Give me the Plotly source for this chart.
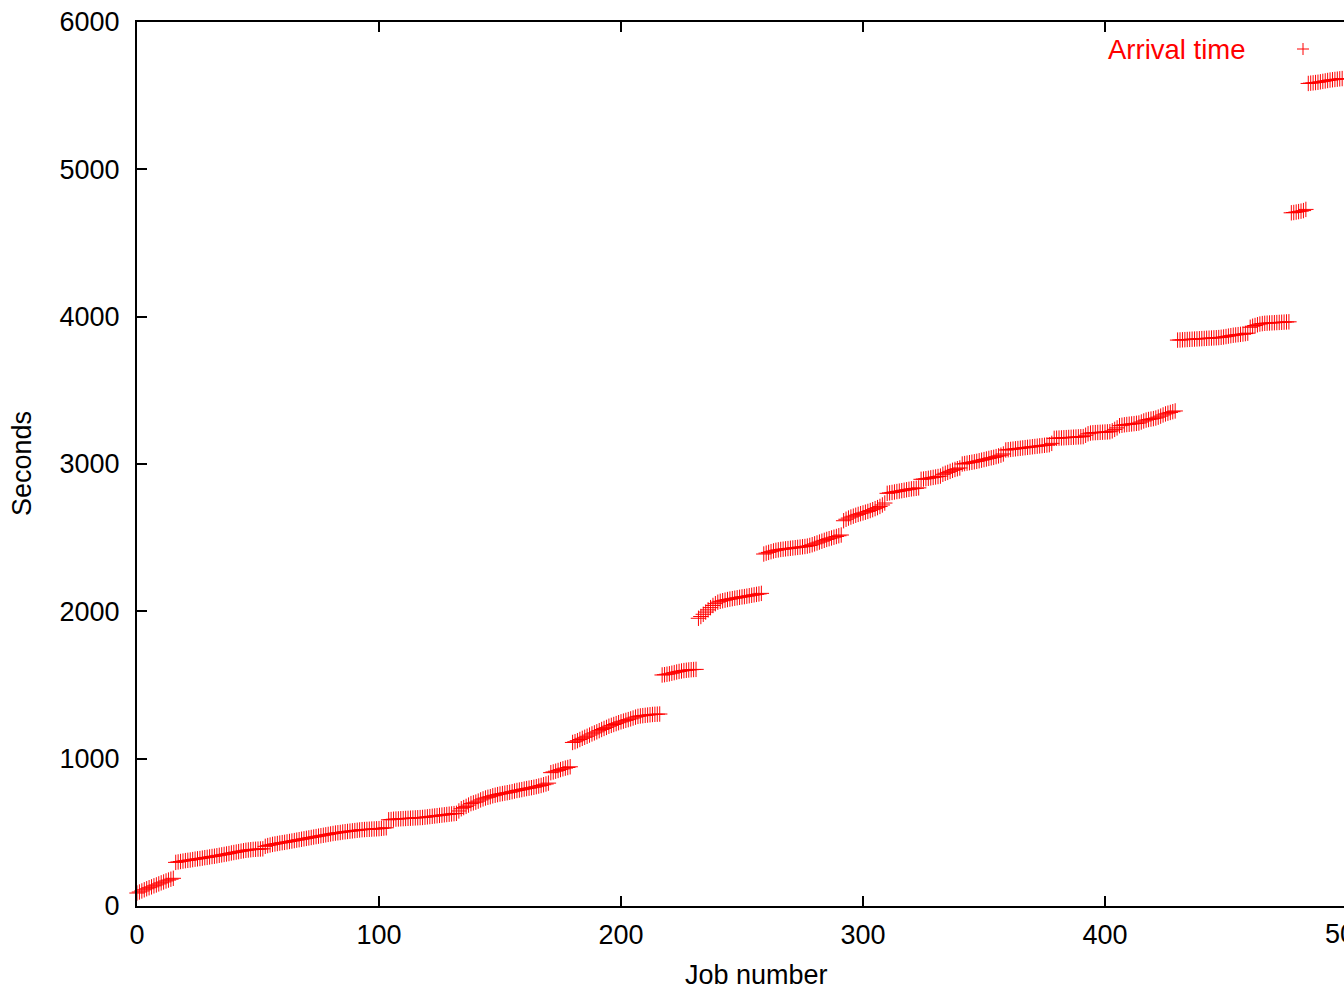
import plotly.graph_objects as go

# Arrival time (seconds) per job, segment by segment
seg_a = [88, 95, 102, 110, 117, 124, 130, 137, 143, 150, 157, 163, 170, 176, 182, 188]
seg_b = [296, 299, 302, 305, 308, 310, 312, 315, 318, 320,
         322, 325, 328, 330, 333, 336, 338, 341, 344, 347,
         350, 353, 356, 360, 363, 366, 369, 372, 375, 378,
         380, 382, 384, 385, 386, 387, 388,
         405, 410, 414, 418, 421, 424, 427, 430, 432, 435,
         438, 441, 444, 447, 450, 453, 456, 459, 462, 465,
         468, 471, 474, 477, 480, 483, 486, 489, 492, 495,
         497, 499, 502, 504, 506, 508, 510, 512, 514, 516,
         518, 519, 520, 521, 522, 523, 524, 525, 527, 529, 531]
seg_c = [585, 587, 589, 590, 591, 592, 593, 594, 595, 596,
         597, 598, 599, 600, 601, 603, 605, 607, 609, 611,
         613, 615, 617, 619, 621, 623, 625, 627, 629, 645,
         660, 668, 676, 685, 695, 700, 705, 712, 720, 727,
         733, 738, 742, 748, 752, 756, 760, 763, 766, 769,
         772, 776, 780, 784, 787, 790, 794, 797, 800, 803,
         806, 810, 814, 818, 823, 828, 834]
seg_d = [905, 910, 915, 920, 926, 931, 936, 940, 945]
seg_e = [1110, 1115, 1122, 1130, 1138, 1145, 1152, 1160, 1168, 1175,
         1182, 1190, 1198, 1205, 1212, 1220, 1226, 1232, 1238, 1244,
         1250, 1255, 1260, 1265, 1270, 1276, 1282, 1287, 1290, 1292,
         1294, 1296, 1298, 1300, 1301, 1302, 1303]
seg_f = [1568, 1570, 1573, 1576, 1580, 1584, 1588, 1592, 1595, 1598,
         1600, 1602, 1604, 1605, 1606]
seg_g = [1953, 1965, 1980, 1995, 2010, 2025, 2040, 2052, 2062, 2068,
         2072, 2076, 2080, 2083, 2086, 2089, 2092, 2095, 2098, 2100,
         2103, 2106, 2109, 2112, 2115, 2118, 2122]
seg_h = [2389, 2395, 2400, 2405, 2410, 2414, 2417, 2420, 2422, 2424,
         2426, 2428, 2430, 2432, 2434, 2436, 2438, 2440, 2443, 2447,
         2452, 2458, 2464, 2470, 2476, 2482, 2488, 2493, 2498, 2503,
         2508, 2513, 2518]
seg_i = [2615, 2625, 2633, 2640, 2646, 2652, 2658, 2663, 2668, 2673,
         2678, 2684, 2690, 2697, 2704, 2712, 2722, 2735]
seg_j = [2801, 2804, 2807, 2810, 2813, 2816, 2819, 2822, 2825, 2828,
         2831, 2833, 2835, 2838,
         2896, 2898, 2900, 2903, 2906, 2909, 2912, 2915, 2918, 2930,
         2937, 2943, 2950, 2957, 2963, 2968, 2973,
         3000, 3003, 3006, 3009, 3012, 3015, 3018, 3022, 3026, 3030,
         3034, 3038, 3042, 3045, 3050, 3055, 3060, 3068,
         3095, 3097, 3099, 3101, 3103, 3105, 3107, 3109, 3111, 3113,
         3115, 3117, 3119, 3121, 3123, 3125, 3127, 3129, 3131, 3140,
         3174, 3175, 3176, 3177, 3178, 3179, 3180, 3181, 3182, 3183,
         3184, 3185, 3186, 3195, 3205, 3210, 3212,
         3213, 3214, 3215, 3216, 3217, 3218, 3219, 3225, 3235, 3245,
         3260, 3263, 3266, 3268, 3270, 3272, 3274, 3276, 3278, 3285,
         3292, 3298, 3302, 3305, 3308, 3312, 3318, 3325, 3333,
         3340, 3345, 3350, 3355, 3360]
seg_k = [3841, 3842, 3843, 3844, 3845, 3846, 3847, 3848, 3849, 3850,
         3851, 3852, 3853, 3854, 3855, 3856, 3857, 3858, 3860, 3862,
         3865, 3868, 3871, 3874, 3876, 3878, 3880, 3882, 3885, 3888,
         3928, 3935, 3940, 3945, 3950, 3953, 3955,
         3956, 3957, 3958, 3959, 3960, 3961, 3962, 3963, 3964, 3965]
seg_l = [4705, 4707, 4710, 4713, 4716, 4720, 4728]
seg_m = [5583, 5585, 5587, 5589, 5591, 5594, 5597, 5600, 5603, 5606,
         5608, 5610, 5612, 5614, 5616, 5618]

seconds = (seg_a + seg_b + seg_c + seg_d + seg_e + seg_f + seg_g + seg_h
           + seg_i + seg_j + seg_k + seg_l + seg_m)
jobs = list(range(len(seconds)))

x_ticks = [0, 100, 200, 300, 400]
y_ticks = [0, 1000, 2000, 3000, 4000, 5000, 6000]
series_name = "Arrival time"

FONT = "Liberation Sans, Arial, Helvetica, sans-serif"
RED = "#ff0000"
W, H = 1344, 997
L, R, T, B = 137, 0, 22, 91
px_per_job = 2.42
x_max = (W - L - R) / px_per_job

fig = go.Figure()
fig.add_trace(go.Scatter(
    x=jobs, y=seconds, mode="markers", name=series_name,
    marker=dict(symbol="cross-thin", size=11, line=dict(width=1, color=RED), color=RED),
    cliponaxis=False, showlegend=False,
))

fig.update_layout(
    width=W, height=H,
    margin=dict(l=L, r=R, t=T, b=B),
    plot_bgcolor="white", paper_bgcolor="white",
    font=dict(family=FONT, size=27, color="black"),
    xaxis=dict(range=[0, x_max], tickvals=x_ticks, ticks="inside", ticklen=10,
               tickwidth=2, tickcolor="black", showline=True, linecolor="black",
               linewidth=2, mirror="ticks", showgrid=False, zeroline=False,
               ticklabelstandoff=4),
    yaxis=dict(range=[0, 6000], tickvals=y_ticks, ticks="inside", ticklen=10,
               tickwidth=2, tickcolor="black", showline=True, linecolor="black",
               linewidth=2, mirror=False, showgrid=False, zeroline=False,
               ticklabelstandoff=10),
)

# partially visible 500 tick label at the right edge
fig.add_annotation(text="500", xref="paper", yref="paper",
                   x=(500 * px_per_job) / (W - L - R), y=0, yshift=-(934 - 906),
                   xanchor="center", yanchor="middle", showarrow=False,
                   font=dict(family=FONT, size=27, color="black"))
# axis titles
fig.add_annotation(text="Job number", xref="paper", yref="paper",
                   x=(756 - L) / (W - L - R), y=0, yshift=-(975 - 906),
                   xanchor="center", yanchor="middle", showarrow=False,
                   font=dict(family=FONT, size=27, color="black"))
fig.add_annotation(text="Seconds", xref="paper", yref="paper",
                   x=0, xshift=-(L - 22), y=0.5, textangle=-90,
                   xanchor="center", yanchor="middle", showarrow=False,
                   font=dict(family=FONT, size=27, color="black"))
# key
fig.add_annotation(text=series_name, xref="paper", yref="paper",
                   x=(1248 - L) / (W - L - R), y=1, yshift=-(49 - T),
                   xanchor="right", yanchor="middle", showarrow=False,
                   font=dict(family=FONT, size=27.5, color=RED))
kx = (1303 - L) / (W - L - R)
ky = 1 - (49 - T) / (H - T - B)
hw = 6 / (W - L - R)
hh = 6 / (H - T - B)
fig.add_shape(type="line", xref="paper", yref="paper", x0=kx - hw, x1=kx + hw,
              y0=ky, y1=ky, line=dict(color=RED, width=1))
fig.add_shape(type="line", xref="paper", yref="paper", x0=kx, x1=kx,
              y0=ky - hh, y1=ky + hh, line=dict(color=RED, width=1))

fig.write_html("out.html")
